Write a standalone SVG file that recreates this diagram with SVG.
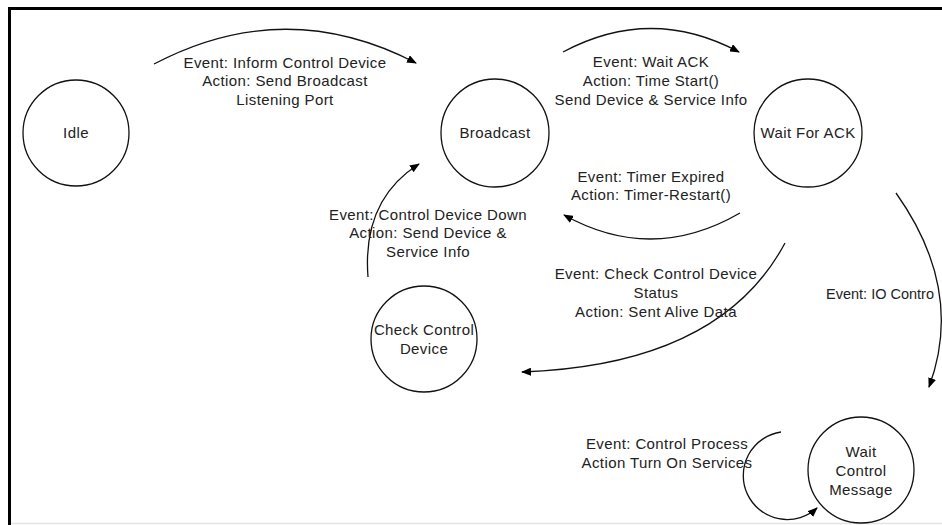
<svg xmlns="http://www.w3.org/2000/svg" width="942" height="525" viewBox="0 0 942 525">
<defs>
<marker id="arr" viewBox="0 0 10 8" refX="9" refY="4" markerWidth="10" markerHeight="8" markerUnits="userSpaceOnUse" orient="auto">
<path d="M0,0 L10,4 L0,8 Z" fill="#000"/>
</marker>
</defs>
<style>
.node{fill:#fff;stroke:#111;stroke-width:1.3}
.edge{fill:none;stroke:#111;stroke-width:1.3;marker-end:url(#arr)}
text{font-family:"Liberation Sans",Arial,sans-serif;font-size:15px;letter-spacing:0.4px;fill:#222}
.c{text-anchor:middle}
</style>
<rect x="0" y="0" width="942" height="525" fill="#fff"/>
<path d="M9.5,525 L9.5,8.5 L942,8.5" fill="none" stroke="#000" stroke-width="3"/>
<line x1="11" y1="523.5" x2="942" y2="523.5" stroke="#e4e4e4" stroke-width="1.5"/>
<g id="connectors">
<path class="edge" d="M154,64 Q285,-5 416,63"/>
<path class="edge" d="M563,52 Q651,5 739,52"/>
<path class="edge" d="M740,213 Q652,264 564,215"/>
<path class="edge" d="M368,277 Q362,200 419,164"/>
<path class="edge" d="M785,243 Q720,365 522,372"/>
<path class="edge" d="M896,193 Q965,290 929,387"/>
<path class="edge" d="M781,432 A44,44 0 1 0 817,508"/>
</g>
<g id="labels">
<text class="c" x="285" y="68">Event: Inform Control Device</text>
<text class="c" x="285" y="86">Action: Send Broadcast</text>
<text class="c" x="285" y="105">Listening Port</text>
<text class="c" x="651" y="67">Event: Wait ACK</text>
<text class="c" x="651" y="86">Action: Time Start()</text>
<text class="c" x="651" y="105">Send Device &amp; Service Info</text>
<text class="c" x="651" y="182">Event: Timer Expired</text>
<text class="c" x="651" y="200">Action: Timer-Restart()</text>
<text class="c" x="428" y="220">Event: Control Device Down</text>
<text class="c" x="428" y="238">Action: Send Device &amp;</text>
<text class="c" x="428" y="257">Service Info</text>
<text class="c" x="656" y="279">Event: Check Control Device</text>
<text class="c" x="656" y="298">Status</text>
<text class="c" x="656" y="317">Action: Sent Alive Data</text>
<text x="826" y="299" style="letter-spacing:0;font-size:14.5px">Event: IO Contro</text>
<text class="c" x="667" y="449">Event: Control Process</text>
<text class="c" x="667" y="468">Action Turn On Services</text>
</g>
<g id="idle">
<circle class="node" cx="76" cy="133" r="53"/>
<text class="c" x="76" y="138">Idle</text>
</g>
<g id="broadcast">
<circle class="node" cx="495" cy="133" r="54"/>
<text class="c" x="495" y="138">Broadcast</text>
</g>
<g id="wait-for-ack">
<circle class="node" cx="808" cy="133" r="54"/>
<text class="c" x="808" y="138">Wait For ACK</text>
</g>
<g id="check-control-device">
<circle class="node" cx="424" cy="339" r="53"/>
<text class="c" x="424" y="335">Check Control</text>
<text class="c" x="424" y="354">Device</text>
</g>
<g id="wait-control-message">
<circle class="node" cx="861" cy="470" r="53"/>
<text class="c" x="861" y="457">Wait</text>
<text class="c" x="861" y="476">Control</text>
<text class="c" x="861" y="495">Message</text>
</g>
</svg>
